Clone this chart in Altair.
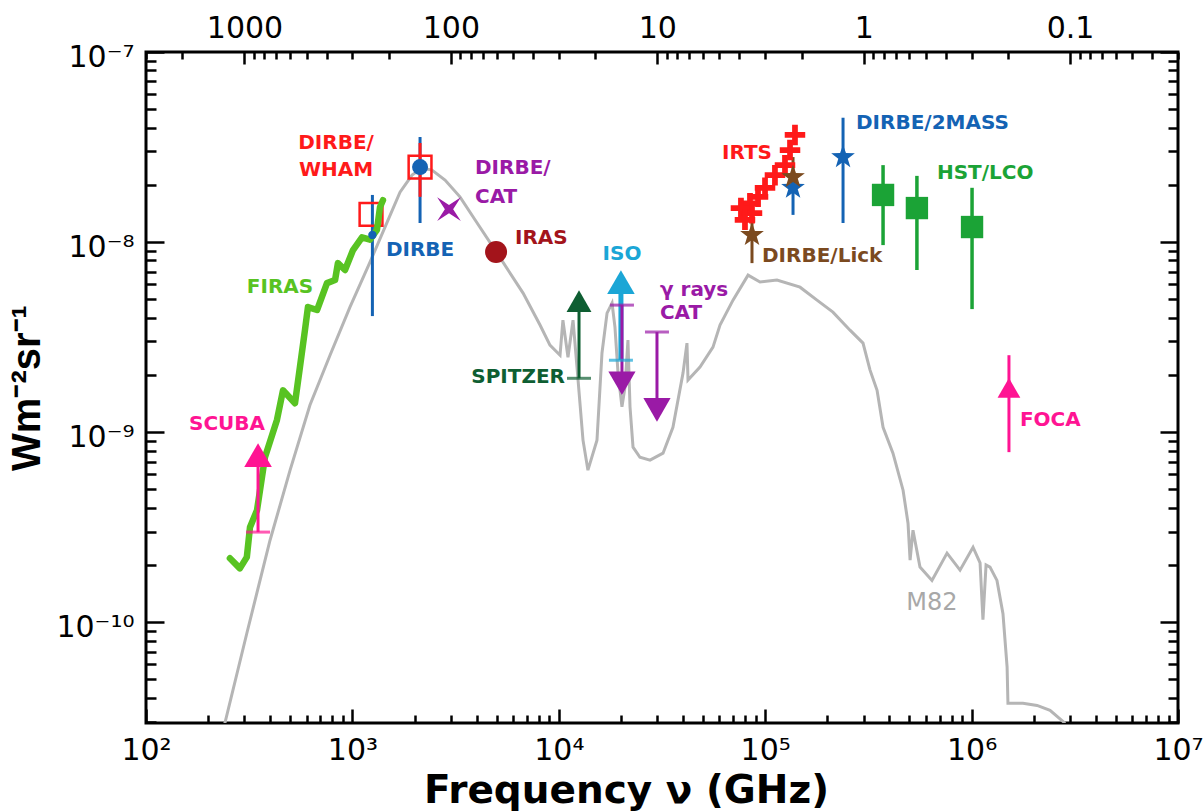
import altair as alt
import pandas as pd

FONT = "Liberation Sans"
WFONT = "DejaVu Sans"

# ---------------- data ----------------
# M82 template spectrum (grey)
m82_freq = [241, 308, 399, 499, 623, 779, 973, 1217, 1472, 1701, 1945, 2174, 2430, 2811, 3320, 3926,
            5023, 6714, 8110, 9060, 10140, 10470, 11080, 11720, 12250, 13100, 13840, 15310, 16190,
            17130, 18110, 18710, 19360, 20230, 20940, 21630, 22130, 22890, 24720, 27670, 31990,
            35730, 39990, 41780, 42270, 48310, 55850, 60400, 69820, 82600, 94400, 114000, 147500,
            178200, 212900, 257600, 297800, 322100, 348300, 372400, 415900, 465600, 492000, 503500,
            520000, 562300, 642700, 760300, 879000, 1016000, 1099000, 1135000, 1175000, 1228000,
            1327000, 1419000, 1486000, 1500000, 1774000, 2075000, 2399000, 2840000]
m82_flux = [2.94e-11, 8.75e-11, 2.70e-10, 6.31e-10, 1.39e-9, 2.54e-9, 4.55e-9, 7.85e-9, 1.27e-8, 1.83e-8,
            2.25e-8, 2.45e-8, 2.39e-8, 2.12e-8, 1.73e-8, 1.31e-8, 8.75e-9, 5.39e-9, 3.66e-9, 2.87e-9,
            2.54e-9, 3.88e-9, 2.48e-9, 3.88e-9, 2.20e-9, 9.08e-10, 6.31e-10, 9.08e-10, 2.61e-9, 4.23e-9,
            4.77e-9, 3.57e-9, 2.05e-9, 1.36e-9, 1.73e-9, 3.05e-9, 1.36e-9, 8.34e-10, 7.38e-10, 7.13e-10,
            7.75e-10, 1.06e-9, 2.05e-9, 2.94e-9, 1.88e-9, 2.20e-9, 2.80e-9, 3.66e-9, 4.95e-9, 6.70e-9,
            6.16e-9, 6.31e-9, 5.79e-9, 4.95e-9, 4.28e-9, 3.44e-9, 2.94e-9, 2.12e-9, 1.66e-9, 1.06e-9,
            7.75e-10, 4.95e-10, 3.32e-10, 2.12e-10, 3.05e-10, 1.95e-10, 1.66e-10, 2.31e-10, 1.88e-10, 2.48e-10,
            2.05e-10, 1.03e-10, 2.0e-10, 1.95e-10, 1.66e-10, 1.11e-10, 5.8e-11, 3.75e-11, 3.75e-11, 3.65e-11,
            3.44e-11, 2.94e-11]

# FIRAS (green)
firas_freq = [255, 285, 308, 319, 345, 377, 431, 461, 527, 557, 589, 609, 674, 753, 824, 851, 921,
              1007, 1113, 1217, 1315, 1361, 1406]
firas_flux = [2.17e-10, 1.92e-10, 2.2e-10, 3.16e-10, 3.88e-10, 7.38e-10, 1.16e-9, 1.66e-9, 1.42e-9,
              2.2e-9, 3.44e-9, 4.55e-9, 4.39e-9, 6.08e-9, 6.31e-9, 7.75e-9, 7.13e-9, 9.08e-9, 1.06e-8,
              1.03e-8, 1.16e-8, 1.53e-8, 1.66e-8]

RED = "#FF1A1A"; BLUE = "#1463B4"; PURPLE = "#9A1AA6"; DARKRED = "#A3141B"
DKGREEN = "#0E5E32"; CYAN = "#1BA6D6"; PINK = "#FF1493"; FGREEN = "#58C322"
HGREEN = "#1BA336"; BROWN = "#7B4A1F"; GREY = "#B5B5B5"

# vertical error bars / arrow shafts
bar_freq = [1250, 2127, 2127, 349, 12530, 20000, 20230, 29900, 1.517e6, 86300, 136400, 136400,
            238300, 372400, 543300, 1.005e6]
bar_lo = [4.08e-9, 1.26e-8, 1.73e-8, 2.98e-10, 1.92e-9, 2.39e-9, 1.81e-9, 1.31e-9, 7.85e-10, 7.75e-9,
          1.9e-8, 1.39e-8, 1.26e-8, 9.64e-9, 7.13e-9, 4.44e-9]
bar_hi = [1.77e-8, 3.57e-8, 3.32e-8, 7.57e-10, 4.89e-9, 6.16e-9, 4.66e-9, 3.36e-9, 2.54e-9, 1.42e-8,
          2.8e-8, 1.93e-8, 4.51e-8, 2.54e-8, 2.23e-8, 1.93e-8]
bar_color = [BLUE, BLUE, RED, PINK, DKGREEN, CYAN, PURPLE, PURPLE, PINK, BROWN, BROWN, BLUE,
             BLUE, HGREEN, HGREEN, HGREEN]
bar_width = [3, 3, 3, 3, 3, 5, 3, 3, 3, 3, 3, 3, 3, 3.5, 3.5, 3.5]
bar_layer = ["back", "back", "back", "front", "front", "iso", "front", "front", "front", "front",
             "front", "front", "front", "front", "front", "front"]

# horizontal caps
cap_freq = [349, 12530, 20000, 20230, 29900]
cap_flux = [2.98e-10, 1.92e-9, 2.39e-9, 4.66e-9, 3.36e-9]
cap_color = [PINK, DKGREEN, CYAN, PURPLE, PURPLE]

# up triangles (lower limits)
up_freq = [349, 12530, 20000, 1.517e6]
up_flux = [7.57e-10, 4.89e-9, 6.16e-9, 1.71e-9]
up_color = [PINK, DKGREEN, CYAN, PINK]
up_size = [760, 620, 760, 520]

# down triangles (upper limits, gamma rays CAT)
down_freq = [20230, 29900]
down_flux = [1.81e-9, 1.31e-9]

# IRAS
iras_freq = [4966]; iras_flux = [8.87e-9]
# DIRBE dots
dirbe_freq = [2127, 1250]; dirbe_flux = [2.48e-8, 1.09e-8]; dirbe_size = [256, 70]
# DIRBE/WHAM open squares
wham_freq = [1231, 2127]; wham_flux = [1.40e-8, 2.48e-8]
# DIRBE/CAT
cat_freq = [2938]; cat_flux = [1.49e-8]
# IRTS
irts_freq = [139400, 131900, 124700, 111500, 99800, 92300, 84400, 76300, 86300, 79800]
irts_flux = [3.66e-8, 3.05e-8, 2.54e-8, 2.25e-8, 1.93e-8, 1.73e-8, 1.60e-8, 1.51e-8, 1.42e-8, 1.31e-8]
# DIRBE/2MASS and DIRBE/Lick stars
mass_freq = [136400, 238300]; mass_flux = [1.93e-8, 2.8e-8]
lick_freq = [86300, 136400]; lick_flux = [1.09e-8, 2.2e-8]
# HST/LCO
hst_freq = [372400, 543300, 1.005e6]; hst_flux = [1.77e-8, 1.51e-8, 1.2e-8]

# labels
lab_text = ["DIRBE/", "WHAM", "DIRBE", "DIRBE/", "CAT", "IRAS", "FIRAS", "SCUBA", "SPITZER", "ISO",
            "γ rays", "CAT", "IRTS", "DIRBE/Lick", "DIRBE/2MASS", "HST/LCO", "FOCA"]
lab_freq = [833, 833, 2127, 3926, 3926, 6135, 446, 247, 10710, 20230, 30900, 30900, 81600, 96500,
            275400, 679000, 1.715e6]
lab_flux = [3.32e-8, 2.39e-8, 9.08e-9, 2.45e-8, 1.73e-8, 1.05e-8, 5.79e-9, 1.11e-9, 1.95e-9, 8.65e-9,
            5.59e-9, 4.23e-9, 2.94e-8, 8.44e-9, 4.23e-8, 2.31e-8, 1.156e-9]
lab_color = [RED, RED, BLUE, PURPLE, PURPLE, DARKRED, FGREEN, PINK, DKGREEN, CYAN, PURPLE, PURPLE,
             RED, BROWN, BLUE, HGREEN, PINK]
lab_align = ["center", "center", "center", "left", "left", "left", "center", "center", "right",
             "center", "left", "left", "center", "left", "left", "left", "left"]

# axes
X_DOMAIN = [1e2, 1e7]
Y_DOMAIN = [2.95e-11, 1e-7]
x_major = [1e2, 1e3, 1e4, 1e5, 1e6, 1e7]
x_major_labels = ["10²", "10³", "10⁴", "10⁵", "10⁶", "10⁷"]
y_major = [1e-10, 1e-9, 1e-8, 1e-7]
y_major_labels = ["10⁻¹⁰", "10⁻⁹", "10⁻⁸", "10⁻⁷"]
top_freq = [300, 3000, 30000, 300000, 3000000]
top_labels = ["1000", "100", "10", "1", "0.1"]

x_minor = [k * 10.0 ** e for e in range(2, 7) for k in range(2, 10)]
y_minor = [k * 10.0 ** e for e in range(-11, -7) for k in range(2, 10)
           if Y_DOMAIN[0] <= k * 10.0 ** e <= Y_DOMAIN[1]]
top_minor = [3e5 / (k * 10.0 ** e) for e in range(-2, 4) for k in range(2, 10)
             if X_DOMAIN[0] <= 3e5 / (k * 10.0 ** e) <= X_DOMAIN[1]]

XS = alt.Scale(type="log", domain=X_DOMAIN, nice=False)
YS = alt.Scale(type="log", domain=Y_DOMAIN, nice=False)

STAR = ("M0,-1L0.235,-0.324L0.951,-0.309L0.38,0.124L0.588,0.809L0,0.4L-0.588,0.809"
        "L-0.38,0.124L-0.951,-0.309L-0.235,-0.324Z")
FOURSTAR = "M-1,-1L0,-0.35L1,-1L0.35,0L1,1L0,0.35L-1,1L-0.35,0Z"
PLUS = ("M-1,-0.28L-0.28,-0.28L-0.28,-1L0.28,-1L0.28,-0.28L1,-0.28L1,0.28L0.28,0.28"
        "L0.28,1L-0.28,1L-0.28,0.28L-1,0.28Z")


def label_expr(vals, labels):
    expr = "''"
    for v, l in reversed(list(zip(vals, labels))):
        expr = f"abs(datum.value/{v!r}-1)<1e-6 ? '{l}' : {expr}"
    return expr


def X(field="f", axis=None):
    return alt.X(f"{field}:Q", scale=XS, axis=axis)


def Y(field="v", axis=None):
    return alt.Y(f"{field}:Q", scale=YS, axis=axis)


anchor = pd.DataFrame({"f": [1e4], "v": [1e-9]})


def x_axis_layer(axis):
    return alt.Chart(anchor).mark_point(opacity=0).encode(x=X(axis=axis), y=Y())


def y_axis_layer(axis):
    return alt.Chart(anchor).mark_point(opacity=0).encode(x=X(), y=Y(axis=axis))


def tick_axis(orient, values, size):
    return alt.Axis(orient=orient, values=values, labels=False, domain=False, ticks=True,
                    tickSize=size, offset=-size, grid=False, title=None,
                    tickColor="black", tickWidth=2.5)


axis_layers = [
    x_axis_layer(alt.Axis(orient="bottom", values=x_major, labelExpr=label_expr(x_major, x_major_labels),
                          ticks=False, domain=False, grid=False, labelPadding=12, labelFlush=False,
                          labelFont=WFONT, labelFontSize=30, labelColor="black",
                          title="Frequency ν (GHz)", titleFont=WFONT, titleFontSize=39,
                          titleFontWeight="bold", titleColor="black", titlePadding=6,
                          titleX=480, titleAlign="center")),
    x_axis_layer(tick_axis("bottom", x_major, 14)),
    x_axis_layer(tick_axis("bottom", x_minor, 8)),
    x_axis_layer(alt.Axis(orient="top", values=top_freq, labelExpr=label_expr(top_freq, top_labels),
                          ticks=False, domain=False, grid=False, labelPadding=9, labelFlush=False,
                          labelFont=WFONT, labelFontSize=30, labelColor="black", title=None)),
    x_axis_layer(tick_axis("top", top_freq, 12)),
    x_axis_layer(tick_axis("top", top_minor, 7)),
    y_axis_layer(alt.Axis(orient="left", values=y_major, labelExpr=label_expr(y_major, y_major_labels),
                          ticks=False, domain=False, grid=False, labelPadding=12, labelFlush=False,
                          labelOffset=5,
                          labelFont=WFONT, labelFontSize=30, labelColor="black",
                          title="Wm⁻²sr⁻¹", titleFont=FONT, titleFontSize=40,
                          titleFontWeight="bold", titleColor="black", titlePadding=8)),
    y_axis_layer(tick_axis("left", y_major, 18)),
    y_axis_layer(tick_axis("left", y_minor, 10)),
    y_axis_layer(tick_axis("right", y_major, 18)),
    y_axis_layer(tick_axis("right", y_minor, 10)),
]

# ---------------- data layers ----------------
m82 = alt.Chart(pd.DataFrame({"f": m82_freq, "v": m82_flux, "i": range(len(m82_freq))})).mark_line(
    color=GREY, strokeWidth=3, clip=True).encode(x=X(), y=Y(), order="i:Q")

firas = alt.Chart(pd.DataFrame({"f": firas_freq, "v": firas_flux, "i": range(len(firas_freq))})).mark_line(
    color=FGREEN, strokeWidth=6.5, strokeJoin="round", strokeCap="round").encode(x=X(), y=Y(), order="i:Q")

bars_df = pd.DataFrame({"f": bar_freq, "lo": bar_lo, "hi": bar_hi, "c": bar_color, "w": bar_width,
                        "layer": bar_layer})


def bars(which):
    return alt.Chart(bars_df[bars_df.layer == which]).mark_rule().encode(
        x=X(), y=Y("lo"), y2="hi:Q", color=alt.Color("c:N", scale=None),
        strokeWidth=alt.StrokeWidth("w:Q", scale=None))


caps = alt.Chart(pd.DataFrame({"f": cap_freq, "v": cap_flux, "c": cap_color})).mark_tick(
    orient="horizontal", size=24, thickness=3).encode(x=X(), y=Y(), color=alt.Color("c:N", scale=None))

ups = alt.Chart(pd.DataFrame({"f": up_freq, "v": up_flux, "c": up_color, "s": up_size})).mark_point(
    shape="triangle-up", filled=True, opacity=1).encode(
    x=X(), y=Y(), color=alt.Color("c:N", scale=None), size=alt.Size("s:Q", scale=None))

downs = alt.Chart(pd.DataFrame({"f": down_freq, "v": down_flux})).mark_point(
    shape="triangle-down", filled=True, opacity=1, color=PURPLE, size=740).encode(x=X(), y=Y())

iras = alt.Chart(pd.DataFrame({"f": iras_freq, "v": iras_flux})).mark_point(
    shape="circle", filled=True, opacity=1, color=DARKRED, size=484).encode(x=X(), y=Y())

dirbe = alt.Chart(pd.DataFrame({"f": dirbe_freq, "v": dirbe_flux, "s": dirbe_size})).mark_point(
    shape="circle", filled=True, opacity=1, color=BLUE).encode(
    x=X(), y=Y(), size=alt.Size("s:Q", scale=None))

wham = alt.Chart(pd.DataFrame({"f": wham_freq, "v": wham_flux})).mark_point(
    shape="square", filled=False, opacity=1, color=RED, size=520, strokeWidth=2.5).encode(x=X(), y=Y())

cat = alt.Chart(pd.DataFrame({"f": cat_freq, "v": cat_flux})).mark_point(
    shape=FOURSTAR, filled=True, opacity=1, color=PURPLE, size=560).encode(x=X(), y=Y())

irts = alt.Chart(pd.DataFrame({"f": irts_freq, "v": irts_flux})).mark_point(
    shape=PLUS, filled=True, opacity=1, color=RED, size=420, strokeWidth=0).encode(x=X(), y=Y())

mass = alt.Chart(pd.DataFrame({"f": mass_freq, "v": mass_flux})).mark_point(
    shape=STAR, filled=True, opacity=1, color=BLUE, size=620).encode(x=X(), y=Y())

lick = alt.Chart(pd.DataFrame({"f": lick_freq, "v": lick_flux})).mark_point(
    shape=STAR, filled=True, opacity=1, color=BROWN, size=620).encode(x=X(), y=Y())

hst = alt.Chart(pd.DataFrame({"f": hst_freq, "v": hst_flux})).mark_point(
    shape="square", filled=True, opacity=1, color=HGREEN, size=500).encode(x=X(), y=Y())

lab_df = pd.DataFrame({"t": lab_text, "f": lab_freq, "v": lab_flux, "c": lab_color, "a": lab_align})


def text_layer(align):
    return alt.Chart(lab_df[lab_df.a == align]).mark_text(
        align=align, baseline="middle", font=WFONT, fontSize=20, fontWeight="bold").encode(
        x=X(), y=Y(), text="t:N", color=alt.Color("c:N", scale=None))


m82_label = alt.Chart(pd.DataFrame({"t": ["M82"], "f": [642700], "v": [1.26e-10]})).mark_text(
    align="center", baseline="middle", font=WFONT, fontSize=24, color="#A8A8A8").encode(
    x=X(), y=Y(), text="t:N")

data_layers = [m82, bars("back"), wham, firas, dirbe, bars("iso"), bars("front"), caps, ups, downs,
               iras, cat, irts, mass, lick, hst,
               text_layer("left"), text_layer("center"), text_layer("right"), m82_label]

chart = alt.layer(*axis_layers, *data_layers).resolve_axis(
    x="independent", y="independent"
).properties(
    width=1032, height=671,
    autosize=alt.AutoSizeParams(type="none"),
    padding={"left": 146, "top": 52, "right": 26, "bottom": 89},
    background="white",
).configure_view(stroke="black", strokeWidth=3).configure_axis(grid=False)

chart.save("out.html", embed_options={"renderer": "svg", "actions": False})
